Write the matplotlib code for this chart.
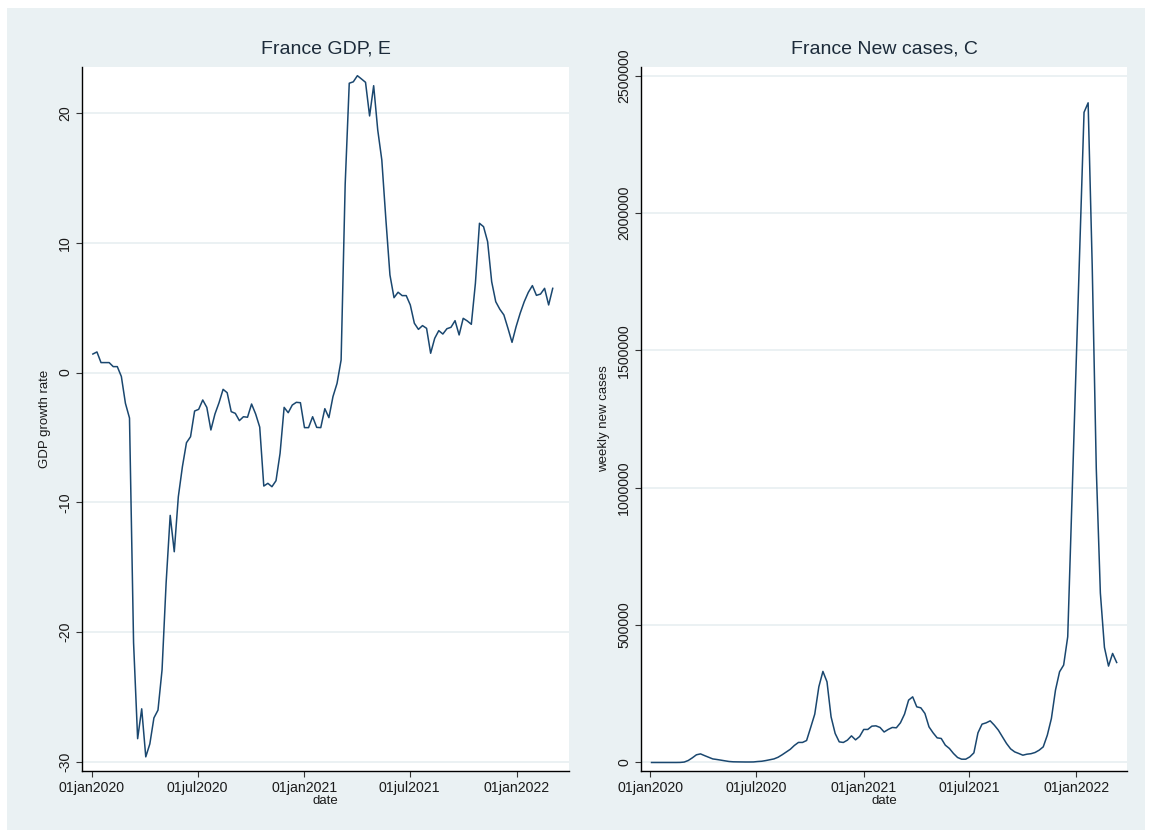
import numpy as np
import pandas as pd
import matplotlib
matplotlib.use("Agg")
import matplotlib.pyplot as plt
import matplotlib.dates as mdates
from matplotlib.patches import Rectangle
from matplotlib.ticker import FixedLocator, FuncFormatter

plt.rcParams['font.family'] = ['Liberation Sans', 'DejaVu Sans']

# weekly series
dates = pd.date_range('2020-01-03', periods=115, freq='7D')

gdp_growth = [
    1.43, 1.59, 0.77, 0.77, 0.77, 0.46, 0.46, -0.3, -2.37, -3.5,
    -20.8, -28.2, -25.9, -29.6, -28.6, -26.6, -26.0, -22.9, -16.2, -11.0,
    -13.8, -9.56, -7.25, -5.4, -4.94, -2.96, -2.83, -2.11, -2.68, -4.42,
    -3.19, -2.32, -1.29, -1.55, -3.01, -3.14, -3.7, -3.4, -3.44, -2.42,
    -3.19, -4.2, -8.74, -8.53, -8.79, -8.33, -6.22, -2.68, -3.09, -2.5,
    -2.29, -2.32, -4.24, -4.24, -3.4, -4.22, -4.24, -2.78, -3.47, -1.85,
    -0.83, 0.97, 14.5, 22.29, 22.4, 22.87, 22.62, 22.36, 19.77, 22.1,
    18.69, 16.38, 11.8, 7.52, 5.77, 6.19, 5.93, 5.93, 5.21, 3.8,
    3.33, 3.62, 3.41, 1.49, 2.64, 3.23, 2.97, 3.38, 3.49, 4.0,
    2.9, 4.18, 3.98, 3.72, 6.88, 11.5, 11.24, 10.09, 7.0, 5.46,
    4.88, 4.44, 3.41, 2.33, 3.54, 4.57, 5.46, 6.18, 6.7, 5.95,
    6.05, 6.49, 5.21, 6.49,
]

new_cases = [
    0, 0, 0, 0, 0, 0, 0, 200, 1500, 7300,
    17000, 28000, 31300, 25000, 19000, 13000, 10900, 8500, 6000, 3600,
    2500, 2200, 2000, 1800, 1800, 2000, 3500, 4500, 7000, 10000,
    13000, 19000, 28000, 38000, 48000, 62000, 73000, 73000, 80000, 127500,
    176000, 275500, 331600, 293700, 166200, 105700, 75100, 72900, 81300, 96900,
    82400, 94700, 120300, 120300, 132300, 133400, 127500, 111000, 120200, 127500,
    126300, 144500, 176000, 227000, 239000, 202600, 199000, 178500, 129700, 108000,
    89700, 87400, 63000, 51000, 32800, 18200, 12000, 12000, 20400, 35000,
    108000, 139600, 144300, 151600, 136000, 117700, 93300, 69200, 49600, 38600,
    32800, 26600, 30200, 32000, 36400, 44800, 56900, 99500, 160300, 263500,
    330200, 354600, 457700, 937000, 1418000, 1895000, 2367000, 2401600, 1810000, 1070000,
    617000, 419000, 351000, 397000, 364000,
]

date_ticks = pd.to_datetime(['2020-01-01', '2020-07-01', '2021-01-01',
                             '2021-07-01', '2022-01-01'])
gdp_ticks = [-30, -20, -10, 0, 10, 20]
case_ticks = [0, 500000, 1000000, 1500000, 2000000, 2500000]

line_color = '#1a476f'
grid_color = '#e8eff1'
bg_color = '#eaf1f3'
text_color = '#1a1a1a'

W, H = 1152, 838
fig = plt.figure(figsize=(W / 100, H / 100), dpi=100)
fig.patch.set_facecolor('white')
fig.add_artist(Rectangle((7 / W, 1 - 830 / H), (1145 - 7) / W, (830 - 8) / H,
                         transform=fig.transFigure, facecolor=bg_color,
                         edgecolor='none', zorder=0))


def panel(rect, x, y, ticks, ylim, xlim_days, title, ylabel):
    l, r, t, b = rect
    ax = fig.add_axes([l / W, 1 - b / H, (r - l) / W, (b - t) / H])
    ax.set_facecolor('white')
    ax.plot(mdates.date2num(x), y, color=line_color, lw=1.1, zorder=3)
    origin = mdates.date2num(pd.Timestamp('2020-01-01'))
    ax.set_xlim(origin + xlim_days[0], origin + xlim_days[1])
    ax.set_ylim(*ylim)
    ax.yaxis.set_major_locator(FixedLocator(ticks))
    ax.yaxis.set_major_formatter(FuncFormatter(lambda v, p: f'{v:.0f}'))
    ax.xaxis.set_major_locator(FixedLocator(mdates.date2num(date_ticks)))
    ax.xaxis.set_major_formatter(FuncFormatter(
        lambda v, p: mdates.num2date(v).strftime('%d%b%Y').lower()))
    ax.grid(axis='y', color=grid_color, lw=1.2, zorder=1)
    for s in ('top', 'right'):
        ax.spines[s].set_visible(False)
    for s in ('left', 'bottom'):
        ax.spines[s].set_color('black')
        ax.spines[s].set_linewidth(1.0)
    ax.tick_params(axis='both', direction='out', length=4.5, width=0.8,
                   color='#333333', labelsize=10.2, labelcolor=text_color, pad=2.5)
    for lab in ax.get_yticklabels():
        lab.set_rotation(90)
        lab.set_va('center')
    ax.set_title(title, fontsize=14, color='#1c2b3a', pad=10)
    ax.set_xlabel('date', fontsize=9.5, color=text_color, labelpad=0)
    ax.set_ylabel(ylabel, fontsize=9.5, color=text_color, labelpad=5)
    return ax


panel((82, 569, 67, 771), dates[:len(gdp_growth)], gdp_growth, gdp_ticks,
      (-30.69, 23.54), (-16.7, 821), 'France GDP, E', 'GDP growth rate')
panel((641, 1127, 67, 771), dates[:len(new_cases)], new_cases, case_ticks,
      (-31000, 2532000), (-16.1, 817.7), 'France New cases, C', 'weekly new cases')

fig.savefig('out.png', dpi=100)
